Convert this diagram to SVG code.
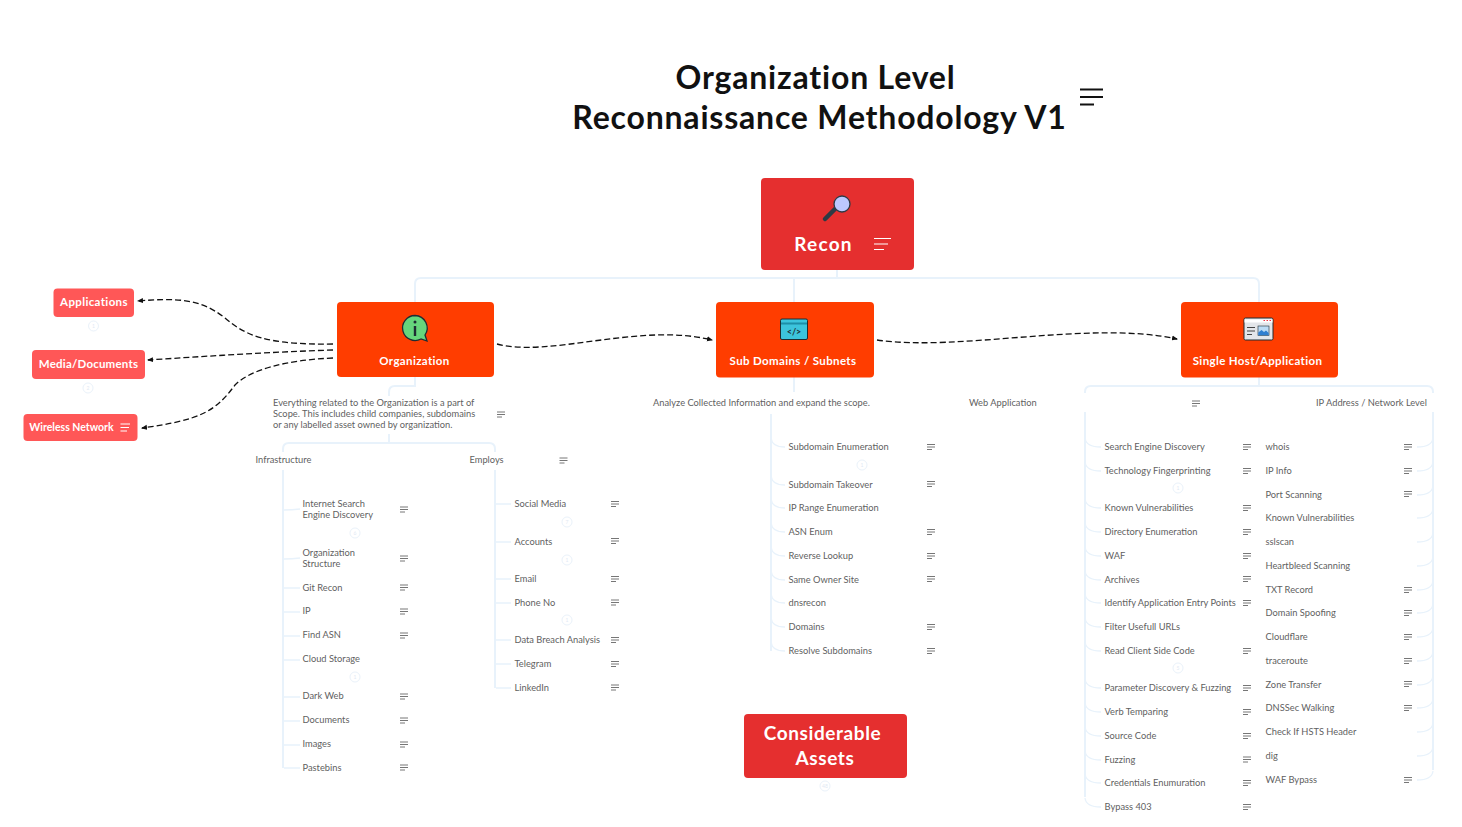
<svg xmlns="http://www.w3.org/2000/svg" width="1462" height="827" viewBox="0 0 1462 827">
<style>
text{font-family:"Lato","Liberation Sans",sans-serif}
.t{font-size:9.3px;fill:#5f5f5f}
.title{font-size:32px;font-weight:700;fill:#111;text-anchor:middle;letter-spacing:.8px}
.wb{fill:#fff;font-weight:700;text-anchor:middle}
.l{font-size:11.500px;letter-spacing:.36px}
.b{font-size:19px;letter-spacing:.6px}
.tr{fill:none;stroke:#e8f2fb;stroke-width:2}
.br{fill:none;stroke:#e8f2fb;stroke-width:1.3}
.dash{fill:none;stroke:#111;stroke-width:1.3;stroke-dasharray:6 3;marker-end:url(#arr)}
.mk{fill:#fff;stroke:#eaf2fa;stroke-width:1}
.mt{font-size:5px;fill:#dfe9f3;text-anchor:middle}
.ic{stroke:#666;stroke-width:.9;fill:none}
.iw{stroke:#fff;stroke-width:1.100;fill:none}
</style>
<defs>
<marker id="arr" markerWidth="6" markerHeight="6" refX="5" refY="3" orient="auto" markerUnits="userSpaceOnUse"><path d="M0,.5L6,3L0,5.5z" fill="#111"/></marker>
<symbol id="note" width="9" height="6" viewBox="0 0 9 6" overflow="visible"><path class="ic" d="M0,.5H8M0,3H8M0,5.5H5"/></symbol>
<symbol id="notew" width="17" height="12" viewBox="0 0 17 12" overflow="visible"><path class="iw" d="M0,.5H17M0,6H14M0,11.5H10"/></symbol>
</defs>
<g id="connectors">
<path class="tr" d="M837,269V278M415,302V284Q415,278 421,278H1253Q1259,278 1259,284V302M794,278V302"/>
<path class="tr" d="M415,377V386H395Q389,386 389,392V396M389,434V443M283,452V449Q283,443 289,443H489Q495,443 495,449V452"/>
<path class="tr" d="M283,470V768M495,470V688"/>
<path class="tr" d="M794,377V392M771,414V651"/>
<path class="tr" d="M1259,377V386M1085,393V392Q1085,386 1091,386H1427Q1433,386 1433,392V393M1085,412V797M1433,412V770"/>
<path class="br" d="M284,510Q292,510 300,509M284,559Q292,559 300,558M284,588H300M284,612H300M284,636H300M284,660H300M284,697H300M284,721H300M284,745H300M284,768H300"/>
<path class="br" d="M496,504H511M496,542H511M496,579H511M496,603H511M496,640H511M496,664H511M496,688H511"/>
<path class="br" d="M771,438Q772,447 785,447M771,476Q772,485 785,485M771,499Q772,508 785,508M771,523Q772,532 785,532M771,547Q772,556 785,556M771,571Q772,580 785,580M771,594Q772,603 785,603M771,618Q772,627 785,627M771,642Q772,651 785,651"/>
<path class="br" d="M1085,438Q1086,447 1101,447M1085,462Q1086,471 1101,471M1085,499Q1086,508 1101,508M1085,523Q1086,532 1101,532M1085,547Q1086,556 1101,556M1085,571Q1086,580 1101,580M1085,594Q1086,603 1101,603M1085,618Q1086,627 1101,627M1085,642Q1086,651 1101,651M1085,679Q1086,688 1101,688M1085,703Q1086,712 1101,712M1085,727Q1086,736 1101,736M1085,751Q1086,760 1101,760M1085,774Q1086,783 1101,783M1085,798Q1086,807 1101,807"/>
<path class="br" d="M1433,438Q1432,447 1417,447M1433,462Q1432,471 1417,471M1433,486Q1432,495 1417,495M1433,509Q1432,518 1417,518M1433,533Q1432,542 1417,542M1433,557Q1432,566 1417,566M1433,581Q1432,590 1417,590M1433,604Q1432,613 1417,613M1433,628Q1432,637 1417,637M1433,652Q1432,661 1417,661M1433,676Q1432,685 1417,685M1433,699Q1432,708 1417,708M1433,723Q1432,732 1417,732M1433,747Q1432,756 1417,756M1433,771Q1432,780 1417,780"/>
<path class="dash" d="M333,344C265,345 245,335 225,318C200,298 175,298 138,301"/>
<path class="dash" d="M333,350C270,352 210,356 148,360"/>
<path class="dash" d="M333,358C285,360 250,370 235,385C215,412 200,420 142,428"/>
<path class="dash" d="M497,344C550,358 640,322 712,340"/>
<path class="dash" d="M877,340C960,352 1090,320 1177,339"/>
</g>
<g id="title">
<text class="title" x="815.500" y="89">Organization Level</text>
<text class="title" x="819.500" y="129">Reconnaissance Methodology V1</text>
<path d="M1080,89.500H1103M1080,97H1103M1080,104.500H1094" stroke="#111" stroke-width="1.800" fill="none"/>
</g>
<g id="recon">
<rect x="761" y="178" width="153" height="92" rx="4" fill="#e52f2f"/>
<path d="M825,219L836,208" stroke="#2d3a44" stroke-width="4.500" stroke-linecap="round"/>
<circle cx="842" cy="204" r="8" fill="#bcc8ff" stroke="#2d3a44" stroke-width="1.300"/>
<text class="wb b" x="823.500" y="251" style="letter-spacing:1.2px">Recon</text>
<use href="#notew" x="874" y="238"/>
</g>
<g id="organization">
<rect x="337" y="302" width="157" height="75" rx="4" fill="#ff3d00"/>
<path d="M415,315.500a12.500,12.500 0 1 0 6,23.500l6,2l-2,-6a12.500,12.500 0 0 0 -10,-19.500z" fill="#66d67c" stroke="#1e2d33" stroke-width="1.300"/>
<rect x="413.800" y="326" width="2.400" height="10" fill="#1e2d33"/><circle cx="415" cy="322" r="1.500" fill="#1e2d33"/>
<text class="wb l" x="414.500" y="365">Organization</text>
</g>
<g id="sub-domains">
<rect x="716" y="302" width="158" height="75.500" rx="4" fill="#ff3d00"/>
<rect x="780.500" y="319" width="27" height="20.500" rx="1.500" fill="#3cc4dc" stroke="#1e2d33" stroke-width="1"/>
<path d="M781,323.500H807" stroke="#1d8fa8" stroke-width="2"/>
<text x="794" y="335" font-size="9" font-weight="700" fill="#1e2d33" text-anchor="middle">&lt;/&gt;</text>
<text class="wb l" x="793" y="365">Sub Domains / Subnets</text>
</g>
<g id="single-host">
<rect x="1181" y="302" width="157" height="75.500" rx="4" fill="#ff3d00"/>
<rect x="1244" y="318" width="29" height="22" rx="1.500" fill="#e3e6ea" stroke="#1e2d33" stroke-width="1"/>
<path d="M1244.500,321H1272.500" stroke="#fff" stroke-width="3"/>
<path d="M1263.500,320.500H1265M1266.500,320.500H1268M1269.500,320.500H1271" stroke="#e34" stroke-width="1"/>
<path d="M1247,327.500H1255M1247,331H1255M1247,334.500H1252" stroke="#444" stroke-width="1"/>
<rect x="1258" y="326" width="11" height="9.500" fill="#bcdcf5" stroke="#1e2d33" stroke-width=".6"/>
<path d="M1258.300,335.200V332.500L1261.500,330L1264,332L1266,330.500L1268.700,333V335.200z" fill="#2f7fd0"/>
<text class="wb l" x="1257.500" y="365">Single Host/Application</text>
</g>
<g id="applications">
<rect x="53.500" y="288.500" width="80.500" height="28.500" rx="4" fill="#ff5757"/>
<text class="wb l" x="94" y="306">Applications</text>
<circle class="mk" cx="93.500" cy="326" r="5"/><text class="mt" x="93.500" y="328">1</text>
</g>
<g id="media-documents">
<rect x="32" y="350" width="113" height="29" rx="4" fill="#ff5757"/>
<text class="wb l" x="88.500" y="368" style="letter-spacing:.2px">Media/Documents</text>
<circle class="mk" cx="88" cy="388" r="5"/><text class="mt" x="88" y="390">2</text>
</g>
<g id="wireless-network">
<rect x="23.500" y="414" width="114" height="27" rx="4" fill="#ff5757"/>
<text class="wb" x="71.500" y="431" font-size="10.500">Wireless Network</text>
<path class="iw" d="M120.500,424H130M120.500,427.500H129M120.500,431H127"/>
</g>
<g id="considerable-assets">
<rect x="744" y="714" width="163" height="64" rx="4" fill="#e52f2f"/>
<text class="wb b" x="822.500" y="740">Considerable</text>
<text class="wb b" x="825" y="765">Assets</text>
<circle class="mk" cx="825" cy="786" r="5"/><text class="mt" x="825" y="788">48</text>
</g>
<g id="org-desc">
<text class="t" x="273" y="406">Everything related to the Organization is a part of</text>
<text class="t" x="273" y="417">Scope. This includes child companies, subdomains</text>
<text class="t" x="273" y="428">or any labelled asset owned by organization.</text>
<use href="#note" x="497" y="411.500"/>
</g>
<g id="infrastructure"><text class="t" x="255.500" y="463">Infrastructure</text></g>
<g id="employs"><text class="t" x="469.500" y="463">Employs</text><use href="#note" x="559.500" y="457.500"/></g>
<g id="analyze"><text class="t" x="653" y="406">Analyze Collected Information and expand the scope.</text></g>
<g id="web-application"><use href="#note" x="1192" y="400.500"/><text class="t" x="969" y="406">Web Application</text></g>
<g id="ip-address"><text class="t" x="1316" y="406">IP Address / Network Level</text></g>
<g id="infra-items">
<g id="i1"><text class="t" x="302.500" y="507">Internet Search</text><text class="t" x="302.500" y="518">Engine Discovery</text><use href="#note" x="400" y="506.500"/><circle class="mk" cx="355" cy="533" r="5"/><text class="mt" x="355" y="535">6</text></g>
<g id="i2"><text class="t" x="302.500" y="556">Organization</text><text class="t" x="302.500" y="567">Structure</text><use href="#note" x="400" y="555.500"/></g>
<g id="i3"><text class="t" x="302.500" y="591">Git Recon</text><use href="#note" x="400" y="584.500"/></g>
<g id="i4"><text class="t" x="302.500" y="614">IP</text><use href="#note" x="400" y="608.500"/></g>
<g id="i5"><text class="t" x="302.500" y="638">Find ASN</text><use href="#note" x="400" y="632.500"/></g>
<g id="i6"><text class="t" x="302.500" y="662">Cloud Storage</text><circle class="mk" cx="355" cy="677" r="5"/><text class="mt" x="355" y="679">1</text></g>
<g id="i7"><text class="t" x="302.500" y="699">Dark Web</text><use href="#note" x="400" y="693.500"/></g>
<g id="i8"><text class="t" x="302.500" y="723">Documents</text><use href="#note" x="400" y="717.500"/></g>
<g id="i9"><text class="t" x="302.500" y="747">Images</text><use href="#note" x="400" y="741.500"/></g>
<g id="i10"><text class="t" x="302.500" y="771">Pastebins</text><use href="#note" x="400" y="764.500"/></g>
</g>
<g id="employ-items">
<g id="e1"><text class="t" x="514.500" y="507">Social Media</text><use href="#note" x="611" y="501"/><circle class="mk" cx="567" cy="522" r="5"/><text class="mt" x="567" y="524">7</text></g>
<g id="e2"><text class="t" x="514.500" y="545">Accounts</text><use href="#note" x="611" y="538"/><circle class="mk" cx="567" cy="560" r="5"/><text class="mt" x="567" y="562">1</text></g>
<g id="e3"><text class="t" x="514.500" y="582">Email</text><use href="#note" x="611" y="576"/></g>
<g id="e4"><text class="t" x="514.500" y="606">Phone No</text><use href="#note" x="611" y="599.500"/><circle class="mk" cx="567" cy="620" r="5"/><text class="mt" x="567" y="622">1</text></g>
<g id="e5"><text class="t" x="514.500" y="643">Data Breach Analysis</text><use href="#note" x="611" y="637"/></g>
<g id="e6"><text class="t" x="514.500" y="667">Telegram</text><use href="#note" x="611" y="661"/></g>
<g id="e7"><text class="t" x="514.500" y="691">LinkedIn</text><use href="#note" x="611" y="684.500"/></g>
</g>
<g id="sub-items">
<g id="s1"><text class="t" x="788.500" y="450">Subdomain Enumeration</text><use href="#note" x="927" y="444"/><circle class="mk" cx="862" cy="465" r="5"/><text class="mt" x="862" y="467">1</text></g>
<g id="s2"><text class="t" x="788.500" y="488">Subdomain Takeover</text><use href="#note" x="927" y="481"/></g>
<g id="s3"><text class="t" x="788.500" y="511">IP Range Enumeration</text></g>
<g id="s4"><text class="t" x="788.500" y="535">ASN Enum</text><use href="#note" x="927" y="529"/></g>
<g id="s5"><text class="t" x="788.500" y="559">Reverse Lookup</text><use href="#note" x="927" y="553"/></g>
<g id="s6"><text class="t" x="788.500" y="583">Same Owner Site</text><use href="#note" x="927" y="576"/></g>
<g id="s7"><text class="t" x="788.500" y="606">dnsrecon</text></g>
<g id="s8"><text class="t" x="788.500" y="630">Domains</text><use href="#note" x="927" y="624"/></g>
<g id="s9"><text class="t" x="788.500" y="654">Resolve Subdomains</text><use href="#note" x="927" y="648"/></g>
</g>
<g id="web-items">
<g id="w1"><text class="t" x="1104.500" y="450">Search Engine Discovery</text><use href="#note" x="1243" y="444"/></g>
<g id="w2"><text class="t" x="1104.500" y="474">Technology Fingerprinting</text><use href="#note" x="1243" y="468"/><circle class="mk" cx="1178" cy="488" r="5"/><text class="mt" x="1178" y="490">1</text></g>
<g id="w3"><text class="t" x="1104.500" y="511">Known Vulnerabilities</text><use href="#note" x="1243" y="505"/></g>
<g id="w4"><text class="t" x="1104.500" y="535">Directory Enumeration</text><use href="#note" x="1243" y="529"/></g>
<g id="w5"><text class="t" x="1104.500" y="559">WAF</text><use href="#note" x="1243" y="553"/></g>
<g id="w6"><text class="t" x="1104.500" y="583">Archives</text><use href="#note" x="1243" y="576"/></g>
<g id="w7"><text class="t" x="1104.500" y="606">Identify Application Entry Points</text><use href="#note" x="1243" y="600"/></g>
<g id="w8"><text class="t" x="1104.500" y="630">Filter Usefull URLs</text></g>
<g id="w9"><text class="t" x="1104.500" y="654">Read Client Side Code</text><use href="#note" x="1243" y="648"/><circle class="mk" cx="1178" cy="668" r="5"/><text class="mt" x="1178" y="670">5</text></g>
<g id="w10"><text class="t" x="1104.500" y="691">Parameter Discovery &amp; Fuzzing</text><use href="#note" x="1243" y="685"/></g>
<g id="w11"><text class="t" x="1104.500" y="715">Verb Temparing</text><use href="#note" x="1243" y="709"/></g>
<g id="w12"><text class="t" x="1104.500" y="739">Source Code</text><use href="#note" x="1243" y="733"/></g>
<g id="w13"><text class="t" x="1104.500" y="763">Fuzzing</text><use href="#note" x="1243" y="756.500"/></g>
<g id="w14"><text class="t" x="1104.500" y="786">Credentials Enumuration</text><use href="#note" x="1243" y="780"/></g>
<g id="w15"><text class="t" x="1104.500" y="810">Bypass 403</text><use href="#note" x="1243" y="804"/></g>
</g>
<g id="ip-items">
<g id="p1"><text class="t" x="1265.500" y="450">whois</text><use href="#note" x="1404" y="444"/></g>
<g id="p2"><text class="t" x="1265.500" y="474">IP Info</text><use href="#note" x="1404" y="468"/></g>
<g id="p3"><text class="t" x="1265.500" y="498">Port Scanning</text><use href="#note" x="1404" y="491"/></g>
<g id="p4"><text class="t" x="1265.500" y="521">Known Vulnerabilities</text></g>
<g id="p5"><text class="t" x="1265.500" y="545">sslscan</text></g>
<g id="p6"><text class="t" x="1265.500" y="569">Heartbleed Scanning</text></g>
<g id="p7"><text class="t" x="1265.500" y="593">TXT Record</text><use href="#note" x="1404" y="587"/></g>
<g id="p8"><text class="t" x="1265.500" y="616">Domain Spoofing</text><use href="#note" x="1404" y="610"/></g>
<g id="p9"><text class="t" x="1265.500" y="640">Cloudflare</text><use href="#note" x="1404" y="634"/></g>
<g id="p10"><text class="t" x="1265.500" y="664">traceroute</text><use href="#note" x="1404" y="658"/></g>
<g id="p11"><text class="t" x="1265.500" y="688">Zone Transfer</text><use href="#note" x="1404" y="681"/></g>
<g id="p12"><text class="t" x="1265.500" y="711">DNSSec Walking</text><use href="#note" x="1404" y="705"/></g>
<g id="p13"><text class="t" x="1265.500" y="735">Check If HSTS Header</text></g>
<g id="p14"><text class="t" x="1265.500" y="759">dig</text></g>
<g id="p15"><text class="t" x="1265.500" y="783">WAF Bypass</text><use href="#note" x="1404" y="777"/></g>
</g>
</svg>
